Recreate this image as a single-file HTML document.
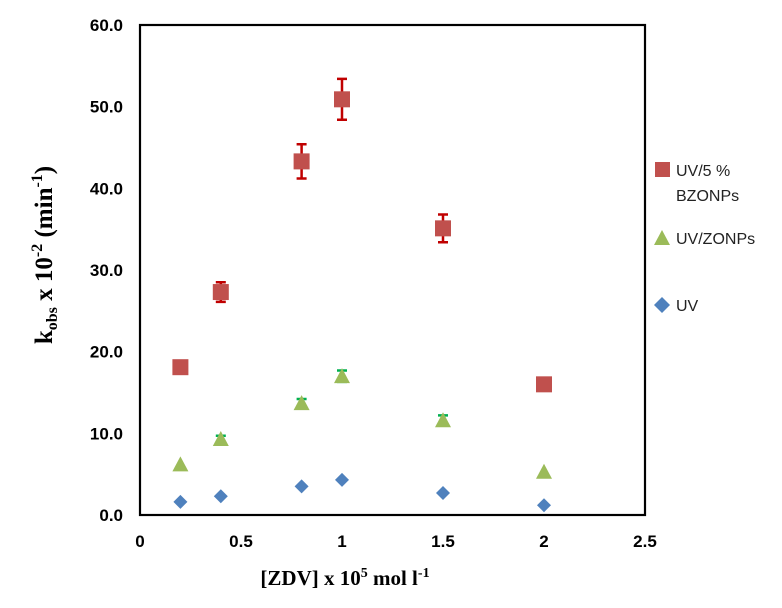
<!DOCTYPE html>
<html><head><meta charset="utf-8"><style>
body{margin:0;background:#fff;width:782px;height:603px;overflow:hidden}
svg text{font-family:"Liberation Sans",sans-serif}
</style></head><body>
<svg id="chart" width="782" height="603" xmlns="http://www.w3.org/2000/svg">
<rect x="140" y="25" width="505" height="490" fill="none" stroke="#000" stroke-width="2.2"/>
<g id="yt"></g>
<g id="xt"></g>
<g id="marks"></g>
<text transform="translate(52,255) rotate(-90)" text-anchor="middle" style="font-family:'Liberation Serif',serif;font-weight:bold;font-size:25px">k<tspan font-size="16" dy="5">obs</tspan><tspan dy="-5"> x 10</tspan><tspan font-size="16" dy="-10">-2</tspan><tspan dy="10"> (min</tspan><tspan font-size="16" dy="-10">-1</tspan><tspan dy="10">)</tspan></text>
<text x="345" y="585" text-anchor="middle" style="font-family:'Liberation Serif',serif;font-weight:bold;font-size:21px">[ZDV]  x 10<tspan font-size="14" dy="-8">5</tspan><tspan dy="8"> mol l</tspan><tspan font-size="14" dy="-8">-1</tspan></text>
<g font-size="16" fill="#222">
<rect x="655" y="162" width="15" height="15" fill="#c0504d"/>
<text x="676" y="176">UV/5 %</text>
<text x="676" y="201">BZONPs</text>
<polygon points="662,230 670,245 654,245" fill="#9bbb59"/>
<text x="676" y="244">UV/ZONPs</text>
<polygon points="662,297 670,305 662,313 654,305" fill="#4f81bd"/>
<text x="676" y="311">UV</text>
</g>
</svg>
<script>
const xVals=[0.2,0.4,0.8,1.0,1.5,2.0];
const bz=[18.1,27.3,43.3,50.9,35.1,16.0];
const bzErr=[0,1.2,2.1,2.5,1.7,0];
const zo=[6.2,9.3,13.7,17.0,11.6,5.3];
const zoErr=[0,0.4,0.5,0.7,0.6,0];
const uv=[1.6,2.3,3.5,4.3,2.7,1.2];
const yTicks=["0.0","10.0","20.0","30.0","40.0","50.0","60.0"];
const xTicks=["0","0.5","1","1.5","2","2.5"];
const X=v=>140+v*202, Y=v=>515-v*490/60;
const NS="http://www.w3.org/2000/svg";
function mk(p,t,a){const e=document.createElementNS(NS,t);for(const k in a)e.setAttribute(k,a[k]);p.appendChild(e);return e;}
const yt=document.getElementById('yt'),xt=document.getElementById('xt'),m=document.getElementById('marks');
yTicks.forEach((t,i)=>{const e=mk(yt,'text',{x:123,y:Y(i*10)+6,'text-anchor':'end','font-size':17,'font-weight':'bold'});e.textContent=t;

});
xTicks.forEach((t,i)=>{const e=mk(xt,'text',{x:X(i*0.5),y:547,'text-anchor':'middle','font-size':17,'font-weight':'bold'});e.textContent=t;

});
function err(v,e,i,col){if(!e)return;const x=X(xVals[i]);const g=mk(m,'path',{d:`M${x},${Y(v+e)}V${Y(v-e)}M${x-5},${Y(v+e)}H${x+5}M${x-5},${Y(v-e)}H${x+5}`,stroke:col,'stroke-width':2.5,fill:'none'});

}
xVals.forEach((xv,i)=>{const x=X(xv);
err(bz[i],bzErr[i],i,'#c00000');
const r=mk(m,'rect',{x:x-8,y:Y(bz[i])-8,width:16,height:16,fill:'#c0504d'});


err(zo[i],zoErr[i],i,'#00b050');
const y2=Y(zo[i]);const t=mk(m,'polygon',{points:`${x},${y2-8} ${x+8},${y2+7} ${x-8},${y2+7}`,fill:'#9bbb59'});


const y3=Y(uv[i]);const d=mk(m,'polygon',{points:`${x},${y3-7} ${x+7},${y3} ${x},${y3+7} ${x-7},${y3}`,fill:'#4f81bd'});


});
</script>
</body></html>
